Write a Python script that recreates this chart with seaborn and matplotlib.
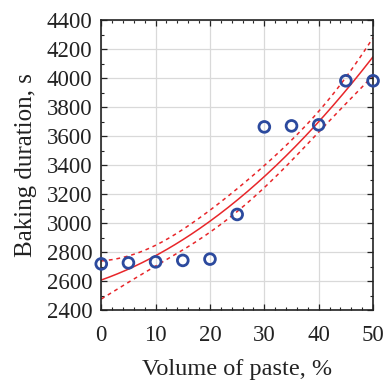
import numpy as np
import pandas as pd
import matplotlib
matplotlib.use("Agg")
import matplotlib.pyplot as plt
import seaborn as sns
from matplotlib.ticker import MultipleLocator

volume = [0, 5, 10, 15, 20, 25, 30, 35, 40, 45, 50]
duration = [2719, 2726, 2733, 2743, 2752, 3060, 3664, 3671, 3678, 3982, 3982]
x_ticks = [0, 10, 20, 30, 40, 50]
y_ticks = [2400, 2600, 2800, 3000, 3200, 3400, 3600, 3800, 4000, 4200, 4400]

sns.set_theme(style="white")
plt.rcParams['font.family'] = ['Liberation Serif', 'DejaVu Serif']

df = pd.DataFrame({"x": volume, "y": duration})

# quadratic least-squares fit with confidence band
X = np.vander(np.array(volume, float), 3)
coef, *_ = np.linalg.lstsq(X, np.array(duration, float), rcond=None)
resid = np.array(duration) - X @ coef
dof = len(volume) - 3
s2 = (resid @ resid) / dof
cov = s2 * np.linalg.inv(X.T @ X)
xs = np.linspace(0, 50, 200)
Xs = np.vander(xs, 3)
yfit = Xs @ coef
se = np.sqrt(np.einsum('ij,jk,ik->i', Xs, cov, Xs))
band = 0.9
fit = pd.DataFrame({"x": xs, "fit": yfit, "lo": yfit - band * se, "hi": yfit + band * se})

fig = plt.figure(figsize=(3.85, 3.81), dpi=100)
ax = fig.add_axes([0.263, 0.186, 0.706, 0.761])

red = "#e8262a"
sns.lineplot(data=fit, x="x", y="fit", ax=ax, color=red, lw=1.1)
sns.lineplot(data=fit, x="x", y="lo", ax=ax, color=red, lw=1.1, linestyle=(0, (2.5, 2.5)))
sns.lineplot(data=fit, x="x", y="hi", ax=ax, color=red, lw=1.1, linestyle=(0, (2.5, 2.5)))
sns.scatterplot(data=df, x="x", y="y", ax=ax, marker="o", s=60, facecolor="none",
                edgecolor="#2c4a9e", linewidth=2, zorder=5, clip_on=False)

ax.set_xlim(0, 50)
ax.set_ylim(2400, 4400)
ax.set_xticks(x_ticks)
ax.set_yticks(y_ticks)
ax.xaxis.set_minor_locator(MultipleLocator(2))
ax.yaxis.set_minor_locator(MultipleLocator(100))
ax.grid(True, which="major", color="#d9d9d9", lw=0.9)
ax.set_axisbelow(True)
ax.tick_params(axis="both", which="both", direction="in", top=True, right=True,
               bottom=True, left=True, labelsize=16.5, colors="#222222")
ax.tick_params(which="major", length=4, width=0.9)
ax.tick_params(which="minor", length=2.5, width=0.8)
ax.tick_params(axis="x", pad=11)
ax.tick_params(axis="y", pad=6.5)
for sp in ax.spines.values():
    sp.set_color("#222222")
    sp.set_linewidth(1.2)
ax.set_xlabel("Volume of paste, %", fontsize=17.5, labelpad=9, color="#222222")
ax.set_ylabel("Baking duration, s", fontsize=18, labelpad=7, color="#222222")

fig.savefig("out.png", dpi=100)
